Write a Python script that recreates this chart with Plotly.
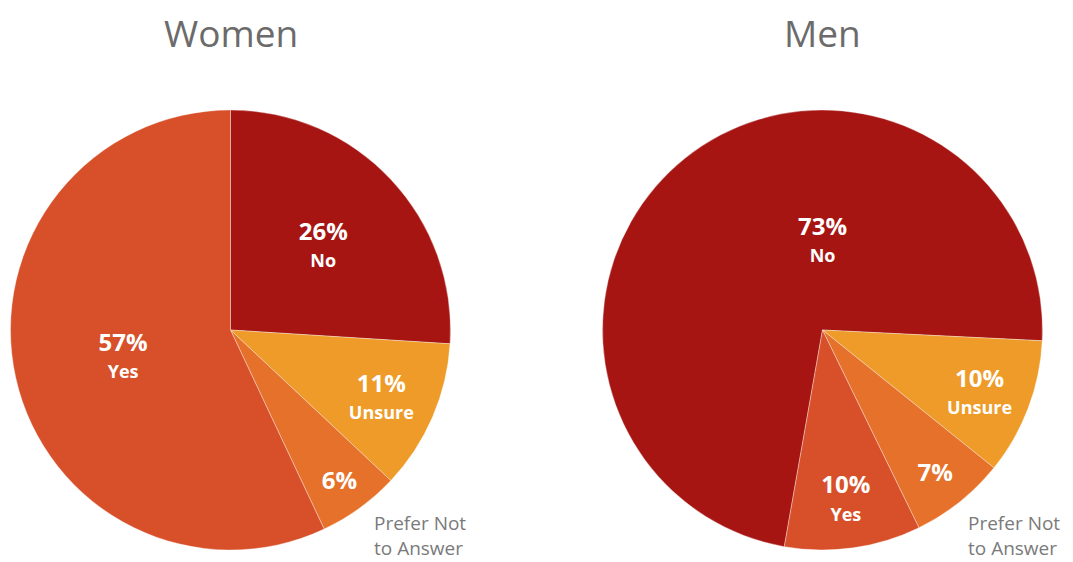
import plotly.graph_objects as go

categories = ["No", "Unsure", "Prefer Not to Answer", "Yes"]
inside_labels = ["No", "Unsure", "", "Yes"]
women_values = [26, 11, 6, 57]
men_values = [73, 10, 7, 10]
colors = ["#A61512", "#EE9B29", "#E6712A", "#D8502A"]

W, H = 1073, 562

def px_x(a, b):
    return [a / W, b / W]

def px_y(top, bottom):
    return [1 - bottom / H, 1 - top / H]

tt = ("<span style='font-size:24px'><b>%{value}%</b></span><br>"
      "<span style='font-size:18px'><b>%{customdata}</b></span>")

fig = go.Figure()
fig.add_trace(go.Pie(
    labels=categories, values=women_values, customdata=inside_labels,
    sort=False, direction="clockwise", rotation=0,
    marker=dict(colors=colors, line=dict(color="rgba(255,255,255,0.35)", width=1)),
    texttemplate=tt, textposition="inside", insidetextorientation="horizontal",
    textfont=dict(family="Open Sans", color="white", size=21),
    domain=dict(x=px_x(10, 451), y=px_y(110, 550)),
    showlegend=False, hoverinfo="label+percent",
))
# Men: the large "No" label is placed by annotation (as in the reference, above the centre)
fig.add_trace(go.Pie(
    labels=categories, values=men_values, customdata=inside_labels,
    sort=False, direction="clockwise", rotation=190,
    marker=dict(colors=colors, line=dict(color="rgba(255,255,255,0.35)", width=1)),
    texttemplate=tt, textposition=["none", "inside", "inside", "inside"],
    insidetextorientation="horizontal",
    textfont=dict(family="Open Sans", color="white", size=21),
    domain=dict(x=px_x(602, 1043), y=px_y(110, 550)),
    showlegend=False, hoverinfo="label+percent",
))

annos = []
annos.append(dict(
    text=(f"<span style='font-size:24px'><b>{men_values[0]}%</b></span><br>"
          f"<span style='font-size:18px'><b>{inside_labels[0]}</b></span>"),
    x=822 / W, y=1 - 238 / H, xref="paper", yref="paper", showarrow=False,
    xanchor="center", yanchor="middle",
    font=dict(family="Open Sans", size=21, color="white")))
for title, cx in [("Women", 231), ("Men", 822)]:
    annos.append(dict(text=title, x=cx / W, y=1 - 33 / H, xref="paper", yref="paper",
                      showarrow=False, xanchor="center", yanchor="middle",
                      font=dict(family="Open Sans", size=37, color="#6b6b6b")))
for lx in [372, 966]:
    annos.append(dict(text="Prefer Not<br>to Answer", x=lx / W, y=1 - 535 / H,
                      xref="paper", yref="paper", showarrow=False,
                      xanchor="left", yanchor="middle", align="left",
                      font=dict(family="Open Sans", size=19, color="#7a7a7a")))

fig.update_layout(
    width=W, height=H, margin=dict(l=0, r=0, t=0, b=0),
    paper_bgcolor="white", plot_bgcolor="white",
    annotations=annos,
)
fig.write_html("out.html")
